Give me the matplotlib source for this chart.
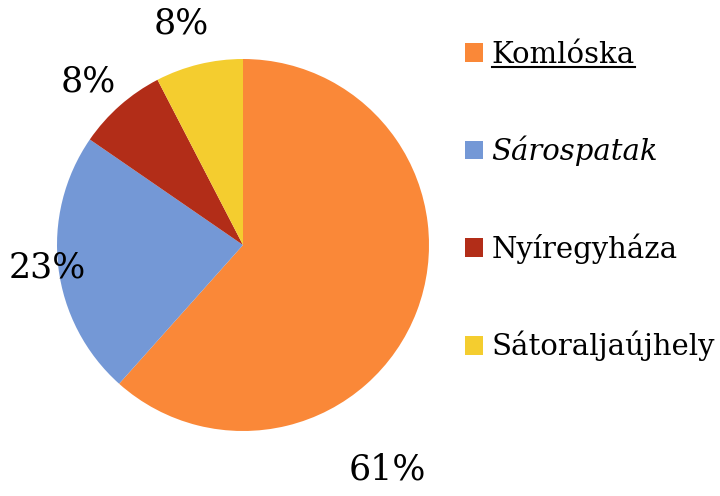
import matplotlib
matplotlib.use("agg")
import matplotlib.pyplot as plt
from matplotlib.lines import Line2D

towns = ['Komlóska', 'Sárospatak', 'Nyíregyháza', 'Sátoraljaújhely']
shares = [61.6, 23.0, 7.8, 7.6]
pct_labels = ['61%', '23%', '8%', '8%']
colors = ['#FA8838', '#7498D6', '#B22D18', '#F4CD2F']
# label positions in pixels (x, y from top)
label_pos = [(387, 470), (47, 268), (88, 82), (181, 24)]

plt.rcParams['font.family'] = ['DejaVu Serif']

W, H = 720, 496
fig = plt.figure(figsize=(W / 100, H / 100), dpi=100)
ax = fig.add_axes([0, 0, 1, 1])

wedges, texts = ax.pie(shares, labels=pct_labels,
                       colors=colors, startangle=90, counterclock=False,
                       center=(243, H - 245), radius=186,
                       wedgeprops=dict(linewidth=0),
                       textprops=dict(fontsize=25, color='black'))
for t, (x, y) in zip(texts, label_pos):
    t.set_position((x, H - y))
    t.set_ha('center')
    t.set_va('center')

ax.set_xlim(0, W)
ax.set_ylim(0, H)
ax.set_aspect('equal')
ax.axis('off')

leg = ax.legend(wedges, towns, loc='upper left', bbox_to_anchor=(453 / W, 1 - 29 / H),
                frameon=False, fontsize=21, handlelength=0.62, handleheight=0.62,
                handletextpad=0.3, labelspacing=2.3, borderaxespad=0)
ltexts = leg.get_texts()
ltexts[1].set_style('italic')

fig.canvas.draw()
bb = ltexts[0].get_window_extent()
inv = ax.transData.inverted()
(x0, y0), (x1, _) = inv.transform([(bb.x0, bb.y0), (bb.x1, bb.y0)])
ax.add_line(Line2D([x0, x1], [y0 + 2, y0 + 2], color='black', linewidth=1.5))

fig.savefig('out.png', dpi=100)
